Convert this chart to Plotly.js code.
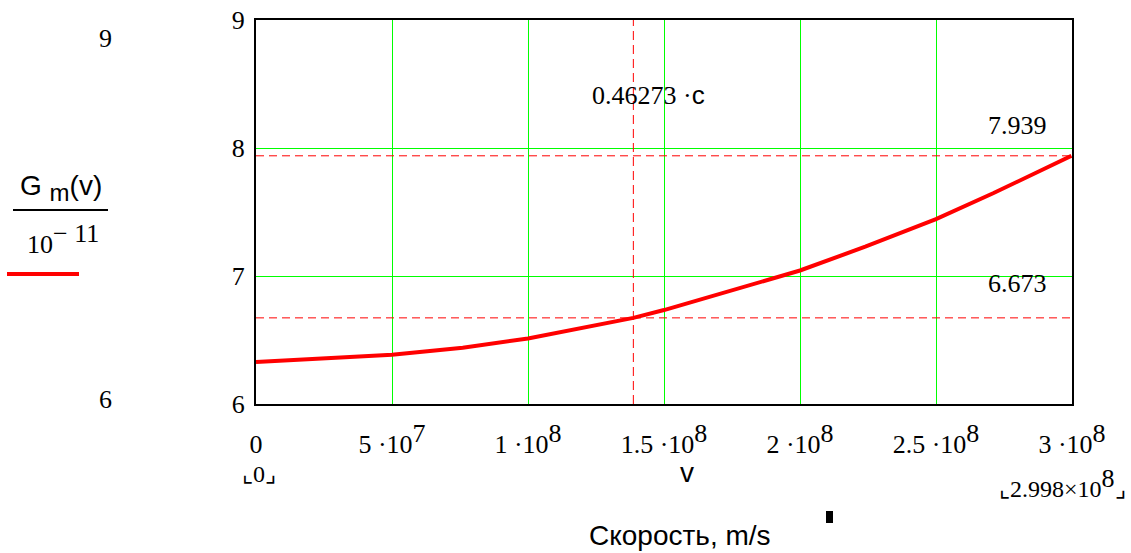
<!DOCTYPE html>
<html>
<head>
<meta charset="utf-8">
<script src="https://cdn.plot.ly/plotly-3.0.1.min.js"></script>
<style>
html,body{margin:0;padding:0;background:#fff;}
#chart{width:1131px;height:553px;}
</style>
</head>
<body>
<div id="chart"></div>
<script>
// Data
const v = [0, 5e7, 7.6e7, 1e8, 1.3873e8, 1.5e8, 2e8, 2.24e8, 2.5e8, 2.71e8, 2.998e8];
const Gm = [6.328, 6.385, 6.44, 6.512, 6.673, 6.734, 7.043, 7.229, 7.445, 7.646, 7.939];
const xTickVals = [0, 5e7, 1e8, 1.5e8, 2e8, 2.5e8, 3e8];
const xTickMant = ["0", "5", "1", "1.5", "2", "2.5", "3"];
const xTickExp = ["", "7", "8", "8", "8", "8", "8"];
const yTickVals = [6, 7, 8, 9];
const markerV = [1.3873e8];        // 0.46273·c
const markerG = [7.939, 6.673];    // horizontal markers
const xRange = [0, 3e8];
const yRange = [6, 9];

const serif = "Liberation Serif";
const sans = "Liberation Sans";

function sup(t, size){ return '<sup><span style="font-size:' + size + 'px">' + t + '</span></sup>'; }
const xTickText = xTickMant.map((m, i) => xTickExp[i] ? m + ' ·10' + sup(xTickExp[i], 26) : m);

const traces = [];
markerG.forEach(g => traces.push({x: [xRange[0], xRange[1]], y: [g, g], type: 'scatter', mode: 'lines',
  line: {color: '#ff0000', width: 1, dash: '8px,5px'}, hoverinfo: 'skip', showlegend: false}));
markerV.forEach(m => traces.push({x: [m, m], y: [yRange[0], yRange[1]], type: 'scatter', mode: 'lines',
  line: {color: '#ff0000', width: 1, dash: '9px,5px'}, hoverinfo: 'skip', showlegend: false}));
traces.push({
  x: v, y: Gm, type: 'scatter', mode: 'lines',
  line: {color: '#ff0000', width: 4}, hoverinfo: 'skip', showlegend: false
});

const L = 256, R = 1072, T = 20, B = 404;
function px(x){return (x-L)/(R-L);}
function py(y){return (B-y)/(B-T);}

const shapes = [];
// fraction bar of the y label
shapes.push({type: 'line', xref: 'paper', yref: 'paper', x0: px(13), x1: px(108),
  y0: py(210), y1: py(210), line: {color: '#000', width: 2}});
// legend sample line
shapes.push({type: 'line', xref: 'paper', yref: 'paper', x0: px(7), x1: px(79),
  y0: py(274), y1: py(274), line: {color: '#ff0000', width: 4}});
// small cursor block
shapes.push({type: 'rect', xref: 'paper', yref: 'paper', x0: px(826), x1: px(833),
  y0: py(523), y1: py(511), line: {width: 0}, fillcolor: '#000'});

function ann(text, x, y, font, size, xanchor){
  return {text: text, xref: 'paper', yref: 'paper', x: px(x), y: py(y), showarrow: false,
    xanchor: xanchor || 'center', yanchor: 'middle', font: {family: font, size: size, color: '#000'}};
}

const annotations = [
  ann("9", 105, 39, serif, 26),
  ann("6", 105, 399, serif, 26),
  ann('G <sub><span style="font-size:24px">m</span></sub>(v)', 61, 188, sans, 28),
  ann('10' + sup('− 11', 26), 63, 239, serif, 26),
  ann('0.46273 ·<span style="font-family:Liberation Sans">c</span>', 648, 95, serif, 26),
  ann("7.939", 1017, 126, serif, 26),
  ann("6.673", 1017, 283, serif, 26),
  ann("⌞0⌟", 259, 474, serif, 24),
  ann("v", 687, 472, sans, 28),
  ann('⌞2.998×10' + sup('8', 26) + '⌟', 1062, 483, serif, 24),
  ann("Скорость, m/s", 680, 535, sans, 28)
];

const layout = {
  width: 1131, height: 553,
  margin: {l: L, r: 1131 - R, t: T, b: 553 - B, pad: 0},
  paper_bgcolor: '#fff', plot_bgcolor: '#fff',
  showlegend: false,
  font: {family: serif},
  xaxis: {
    range: xRange, tickmode: 'array', tickvals: xTickVals, ticktext: xTickText,
    showgrid: true, gridcolor: '#00ff00', gridwidth: 1, zeroline: false,
    showline: true, mirror: true, linecolor: '#000', linewidth: 2,
    ticks: '', ticklabelstandoff: 16,
    tickfont: {family: serif, size: 26, color: '#000'}
  },
  yaxis: {
    range: yRange, tickmode: 'array', tickvals: yTickVals, ticktext: yTickVals.map(String),
    showgrid: true, gridcolor: '#00ff00', gridwidth: 1, zeroline: false,
    showline: true, mirror: true, linecolor: '#000', linewidth: 2,
    ticks: '', ticklabelstandoff: 4,
    tickfont: {family: serif, size: 26, color: '#000'}
  },
  shapes: shapes,
  annotations: annotations
};

Plotly.newPlot('chart', traces, layout, {displayModeBar: false, staticPlot: true});
</script>
</body>
</html>
